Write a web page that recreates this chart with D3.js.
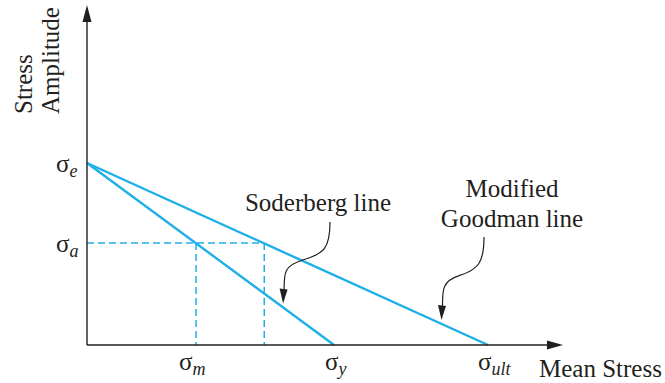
<!DOCTYPE html>
<html><head><meta charset="utf-8"><script src="https://cdn.jsdelivr.net/npm/d3@7/dist/d3.min.js"></script></head>
<body style="margin:0">
<script>
// Fatigue diagram: stress amplitude vs. mean stress, normalised units
const sigmaE = 1.0;                         // endurance limit on the amplitude axis
const lineNames = ["Soderberg line", "Modified Goodman line"];
const meanIntercepts = [0.616, 1.0];        // σy (Soderberg), σult (Goodman)
const sigmaA = 0.56;                        // working stress amplitude
const sigmaM = [0.272, 0.442];              // mean stress where σa meets each line
const calloutMean = [0.489, 0.884];         // where each callout arrow touches its line

const xTickLabels = [
  { base: "σ", sub: "m",   value: sigmaM[0],         dx: -17 },
  { base: "σ", sub: "y",   value: meanIntercepts[0], dx: -9 },
  { base: "σ", sub: "ult", value: meanIntercepts[1], dx: -10 }
];
const yTickLabels = [
  { base: "σ", sub: "e", value: sigmaE },
  { base: "σ", sub: "a", value: sigmaA }
];
const xAxisTitle = "Mean Stress";
const yAxisTitle = ["Stress", "Amplitude"];

const W = 665, H = 383;
const x = d3.scaleLinear().domain([0, 1.187]).range([87, 563]);
const y = d3.scaleLinear().domain([0, 1.868]).range([345, 5]);

const blue = "#1fafe8";
const ink = "#231f20";
const serif = '"Liberation Serif", "Times New Roman", "Tinos", "FreeSerif"';

const svg = d3.select("body").append("svg")
  .attr("width", W).attr("height", H)
  .style("display", "block");

// dashed construction lines for σa and the two σm values
const dash = svg.append("g")
  .attr("stroke", blue).attr("stroke-width", 1.5)
  .attr("stroke-dasharray", "7,4").attr("fill", "none");
dash.append("line")
  .attr("x1", x(0)).attr("x2", x(d3.max(sigmaM)))
  .attr("y1", y(sigmaA)).attr("y2", y(sigmaA));
dash.selectAll("line.v").data(sigmaM).join("line")
  .attr("class", "v")
  .attr("x1", d => x(d)).attr("x2", d => x(d))
  .attr("y1", y(sigmaA)).attr("y2", y(0));

// failure lines from σe down to the mean-stress intercepts
const lineGen = d3.line().x(d => x(d[0])).y(d => y(d[1]));
svg.append("g").selectAll("path").data(meanIntercepts).join("path")
  .attr("d", d => lineGen([[0, sigmaE], [d, 0]]))
  .attr("fill", "none").attr("stroke", blue).attr("stroke-width", 2.4);

// axes with arrowheads
const axisG = svg.append("g").attr("stroke", ink).attr("fill", ink);
const xEnd = x.range()[1], yTop = y.range()[1];
axisG.append("line")
  .attr("x1", x(0)).attr("x2", xEnd - 8)
  .attr("y1", y(0)).attr("y2", y(0)).attr("stroke-width", 1.4);
axisG.append("path")
  .attr("d", `M${xEnd},${y(0)} L${xEnd - 16},${y(0) - 4.5} L${xEnd - 16},${y(0) + 4.5} Z`)
  .attr("stroke", "none");
axisG.append("line")
  .attr("x1", x(0)).attr("x2", x(0))
  .attr("y1", y(0)).attr("y2", yTop + 8).attr("stroke-width", 1.4);
axisG.append("path")
  .attr("d", `M${x(0)},${yTop} L${x(0) - 4.5},${yTop + 17} L${x(0) + 4.5},${yTop + 17} Z`)
  .attr("stroke", "none");

function label(sel) {
  return sel.attr("fill", ink).attr("font-size", 25).style("font-family", serif);
}

// subscripted symbol labels
function symbol(g, d) {
  g.append("tspan").text(d.base);
  g.append("tspan").text(d.sub)
    .attr("font-style", "italic").attr("font-size", 18).attr("dy", 5);
}

svg.selectAll("text.xt").data(xTickLabels).join("text")
  .attr("class", "xt").call(label)
  .attr("x", d => x(d.value) + d.dx).attr("y", y(0) + 25)
  .each(function (d) { symbol(d3.select(this), d); });

svg.selectAll("text.yt").data(yTickLabels).join("text")
  .attr("class", "yt").call(label)
  .attr("x", x(0) - 31).attr("y", d => y(d.value) + 9)
  .each(function (d) { symbol(d3.select(this), d); });

// axis titles
svg.append("text").call(label)
  .attr("x", 539).attr("y", y(0) + 32)
  .text(xAxisTitle);

svg.selectAll("text.yl").data(yAxisTitle).join("text")
  .attr("class", "yl").call(label)
  .attr("transform", (d, i) => `translate(${32 + i * 27},114) rotate(-90)`)
  .text(d => d);

// line names
svg.append("text").call(label)
  .attr("x", 318).attr("y", 211).attr("text-anchor", "middle")
  .text(lineNames[0]);
svg.append("text").call(label)
  .attr("x", 512).attr("y", 197).attr("text-anchor", "middle")
  .selectAll("tspan").data(["Modified", "Goodman line"]).join("tspan")
  .attr("x", 512).attr("dy", (d, i) => i ? 30 : 0).text(d => d);

// curved callout arrows from each name to its line
const callouts = [
  { start: [330, 222], mean: calloutMean[0], line: meanIntercepts[0] },
  { start: [484, 237], mean: calloutMean[1], line: meanIntercepts[1] }
];
const callG = svg.append("g");
callouts.forEach(c => {
  const tx = x(c.mean);
  const ty = y(sigmaE * (1 - c.mean / c.line)) - 4;
  const [sx, sy] = c.start;
  const mx = (sx + tx) / 2 - 3, my = (sy + ty) / 2 - 3;
  callG.append("path")
    .attr("d", `M${sx},${sy} C${sx},${sy + 26} ${sx - 6},${my - 6} ${mx},${my}` +
               ` S${tx + 1},${ty - 30} ${tx + 1},${ty - 12}`)
    .attr("fill", "none").attr("stroke", ink).attr("stroke-width", 1.2);
  callG.append("path")
    .attr("d", `M${tx},${ty} L${tx - 3.5},${ty - 15} L${tx + 4.5},${ty - 14} Z`)
    .attr("fill", ink);
});
</script>
</body></html>
